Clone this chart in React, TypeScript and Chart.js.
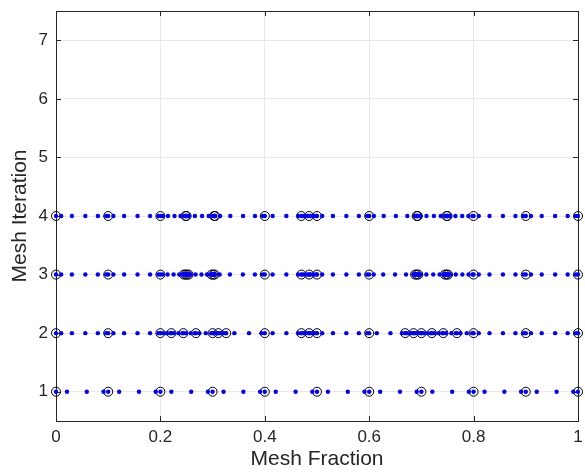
import React, { useEffect, useRef } from "react";
import { Chart, registerables } from "chart.js";

Chart.register(...registerables);

// x-axis / y-axis ticks
const xTickValues = [0, 0.2, 0.4, 0.6, 0.8, 1];
const xTickLabels = ["0", "0.2", "0.4", "0.6", "0.8", "1"];
const yTickValues = [1, 2, 3, 4, 5, 6, 7];
const yTickLabels = ["1", "2", "3", "4", "5", "6", "7"];

// Mesh iteration numbers (rows)
const iterations = [1, 2, 3, 4];

// Mesh points (black circles) per iteration
const mesh1 = [0, 0.1, 0.2, 0.3, 0.4, 0.5, 0.6, 0.7, 0.8, 0.9, 1.0];
const mesh2 = [0, 0.1, 0.2, 0.221, 0.244, 0.268, 0.3, 0.311, 0.326, 0.4, 0.47, 0.485, 0.5, 0.6, 0.669, 0.685, 0.7, 0.72, 0.742, 0.768, 0.8, 0.9, 1.0];
const mesh3 = [0, 0.1, 0.2, 0.245, 0.248, 0.251, 0.254, 0.298, 0.301, 0.304, 0.4, 0.47, 0.485, 0.5, 0.6, 0.688, 0.691, 0.694, 0.745, 0.748, 0.751, 0.8, 0.9, 1.0];
const mesh4 = [0, 0.1, 0.2, 0.248, 0.25, 0.303, 0.305, 0.4, 0.47, 0.485, 0.5, 0.6, 0.691, 0.693, 0.748, 0.75, 0.8, 0.9, 1.0];

// Collocation points (blue dots) per iteration
const colloc1 = [
  0, 0.021, 0.059, 0.091, 0.1, 0.121, 0.159, 0.191, 0.2, 0.221, 0.259, 0.291,
  0.3, 0.321, 0.359, 0.391, 0.4, 0.421, 0.459, 0.491, 0.5, 0.521, 0.559, 0.591,
  0.6, 0.621, 0.659, 0.691, 0.7, 0.721, 0.759, 0.791, 0.8, 0.821, 0.859, 0.891,
  0.9, 0.921, 0.959, 0.991, 1.0,
];
const colloc2 = [
  0, 0.0099, 0.0305, 0.0562, 0.0802, 0.096,
  0.1, 0.1099, 0.1305, 0.1562, 0.1802, 0.196,
  0.2, 0.2045, 0.2124, 0.2191,
  0.221, 0.2259, 0.2346, 0.242,
  0.244, 0.2491, 0.2582, 0.2659,
  0.268, 0.2748, 0.2869, 0.2972,
  0.3, 0.3023, 0.3065, 0.31,
  0.311, 0.3142, 0.3199, 0.3247,
  0.326, 0.3417, 0.3697, 0.3934,
  0.4, 0.4149, 0.4413, 0.4638,
  0.47, 0.4732, 0.4789, 0.4837,
  0.485, 0.4882, 0.4939, 0.4987,
  0.5, 0.5099, 0.5305, 0.5562, 0.5802, 0.596,
  0.6, 0.6146, 0.6407, 0.6629,
  0.669, 0.6724, 0.6784, 0.6836,
  0.685, 0.6882, 0.6939, 0.6987,
  0.7, 0.7042, 0.7118, 0.7182,
  0.72, 0.7247, 0.733, 0.74,
  0.742, 0.7475, 0.7574, 0.7657,
  0.768, 0.7748, 0.7869, 0.7972,
  0.8, 0.8099, 0.8305, 0.8562, 0.8802, 0.896,
  0.9, 0.9099, 0.9305, 0.9562, 0.9802, 0.996,
  1.0,
];
const colloc3 = [
  0, 0.0099, 0.0305, 0.0562, 0.0802, 0.096,
  0.1, 0.1099, 0.1305, 0.1562, 0.1802, 0.196,
  0.2, 0.2044, 0.2137, 0.2253, 0.2361, 0.2432,
  0.245, 0.2456, 0.2468, 0.2477,
  0.248, 0.2486, 0.2498, 0.2507,
  0.251, 0.2516, 0.2528, 0.2537,
  0.254, 0.2583, 0.2674, 0.2787, 0.2893, 0.2962,
  0.298, 0.2986, 0.2998, 0.3007,
  0.301, 0.3016, 0.3028, 0.3037,
  0.304, 0.3135, 0.3332, 0.358, 0.381, 0.3962,
  0.4, 0.4149, 0.4413, 0.4638,
  0.47, 0.4732, 0.4789, 0.4837,
  0.485, 0.4882, 0.4939, 0.4987,
  0.5, 0.5099, 0.5305, 0.5562, 0.5802, 0.596,
  0.6, 0.6087, 0.6268, 0.6495, 0.6706, 0.6845,
  0.688, 0.6886, 0.6898, 0.6907,
  0.691, 0.6916, 0.6928, 0.6937,
  0.694, 0.699, 0.7095, 0.7227, 0.7349, 0.743,
  0.745, 0.7456, 0.7468, 0.7477,
  0.748, 0.7486, 0.7498, 0.7507,
  0.751, 0.7558, 0.7659, 0.7785, 0.7903, 0.798,
  0.8, 0.8099, 0.8305, 0.8562, 0.8802, 0.896,
  0.9, 0.9099, 0.9305, 0.9562, 0.9802, 0.996,
  1.0,
];
const colloc4 = [
  0, 0.0099, 0.0305, 0.0562, 0.0802, 0.096,
  0.1, 0.1099, 0.1305, 0.1562, 0.1802, 0.196,
  0.2, 0.2047, 0.2146, 0.227, 0.2385, 0.2461,
  0.248, 0.2484, 0.2492, 0.2498,
  0.25, 0.2552, 0.2661, 0.2798, 0.2925, 0.3009,
  0.303, 0.3034, 0.3042, 0.3048,
  0.305, 0.3144, 0.3339, 0.3584, 0.3812, 0.3962,
  0.4, 0.4149, 0.4413, 0.4638,
  0.47, 0.4732, 0.4789, 0.4837,
  0.485, 0.4882, 0.4939, 0.4987,
  0.5, 0.5099, 0.5305, 0.5562, 0.5802, 0.596,
  0.6, 0.609, 0.6277, 0.6511, 0.673, 0.6874,
  0.691, 0.6914, 0.6922, 0.6928,
  0.693, 0.6984, 0.7098, 0.7239, 0.7371, 0.7458,
  0.748, 0.7484, 0.7492, 0.7498,
  0.75, 0.7549, 0.7652, 0.7781, 0.7901, 0.798,
  0.8, 0.8099, 0.8305, 0.8562, 0.8802, 0.896,
  0.9, 0.9099, 0.9305, 0.9562, 0.9802, 0.996,
  1.0,
];

const meshRows = [mesh1, mesh2, mesh3, mesh4];
const collocRows = [colloc1, colloc2, colloc3, colloc4];

const FONT = "'Liberation Sans', Arial, Helvetica, sans-serif";
const TEXT = "#262626";

const boxPlugin = {
  id: "matlabBox",
  beforeDatasetsDraw(chart: any) {
    const { ctx, chartArea: a, scales } = chart;
    ctx.save();
    ctx.strokeStyle = TEXT;
    ctx.lineWidth = 1;
    ctx.beginPath();
    const tl = 5;
    xTickValues.forEach((v) => {
      const px = Math.round(scales.x.getPixelForValue(v)) + 0.5;
      ctx.moveTo(px, a.bottom);
      ctx.lineTo(px, a.bottom - tl);
      ctx.moveTo(px, a.top);
      ctx.lineTo(px, a.top + tl);
    });
    yTickValues.forEach((v) => {
      const py = Math.round(scales.y.getPixelForValue(v)) + 0.5;
      ctx.moveTo(a.left, py);
      ctx.lineTo(a.left + tl, py);
      ctx.moveTo(a.right, py);
      ctx.lineTo(a.right - tl, py);
    });
    ctx.stroke();
    ctx.strokeRect(
      Math.round(a.left) + 0.5,
      Math.round(a.top) + 0.5,
      Math.round(a.right - a.left),
      Math.round(a.bottom - a.top)
    );
    ctx.restore();
  },
};

export default function App() {
  const ref = useRef<HTMLCanvasElement>(null);

  useEffect(() => {
    if (!ref.current) return;
    const dots: { x: number; y: number }[] = [];
    const circles: { x: number; y: number }[] = [];
    iterations.forEach((it, i) => {
      collocRows[i].forEach((x) => dots.push({ x, y: it }));
      meshRows[i].forEach((x) => circles.push({ x, y: it }));
    });

    const chart = new Chart(ref.current, {
      type: "scatter",
      data: {
        datasets: [
          {
            label: "Collocation points",
            data: dots,
            pointStyle: "circle",
            pointRadius: 2.2,
            pointBackgroundColor: "#0000ff",
            pointBorderWidth: 0,
            clip: false,
            order: 1,
          } as any,
          {
            label: "Mesh points",
            data: circles,
            pointStyle: "circle",
            pointRadius: 4.5,
            pointBackgroundColor: "rgba(0,0,0,0)",
            pointBorderColor: "#000000",
            pointBorderWidth: 1,
            clip: false,
            order: 2,
          } as any,
        ],
      },
      options: {
        responsive: false,
        animation: false,
        events: [],
        layout: { padding: { top: 11, right: 7, left: 0, bottom: 0 } },
        plugins: { legend: { display: false }, tooltip: { enabled: false } },
        scales: {
          x: {
            type: "linear",
            min: 0,
            max: 1,
            afterBuildTicks: (s: any) => {
              s.ticks = xTickValues.map((v) => ({ value: v }));
            },
            afterFit: (s: any) => {
              s.height = 51;
              s.paddingLeft = 0;
              s.paddingRight = 0;
            },
            ticks: {
              callback: (_v: any, i: number) => xTickLabels[i],
              color: TEXT,
              font: { family: FONT, size: 17 },
              padding: 6,
              maxRotation: 0,
            },
            grid: { color: "#e8e8e8", drawTicks: false },
            border: { display: false },
            title: {
              display: true,
              text: "Mesh Fraction",
              color: TEXT,
              font: { family: FONT, size: 21 },
              padding: { top: 0, bottom: 0 },
            },
          },
          y: {
            type: "linear",
            min: 0.5,
            max: 7.5,
            afterBuildTicks: (s: any) => {
              s.ticks = yTickValues.map((v) => ({ value: v }));
            },
            afterFit: (s: any) => {
              s.width = 56;
              s.paddingTop = 0;
              s.paddingBottom = 0;
            },
            ticks: {
              callback: (_v: any, i: number) => yTickLabels[i],
              color: TEXT,
              font: { family: FONT, size: 17 },
              padding: 8,
            },
            grid: { color: "#e8e8e8", drawTicks: false },
            border: { display: false },
            title: {
              display: true,
              text: "Mesh Iteration",
              color: TEXT,
              font: { family: FONT, size: 21 },
              padding: { top: 8, bottom: 0 },
            },
          },
        },
      },
      plugins: [boxPlugin],
    });
    return () => chart.destroy();
  }, []);

  return (
    <div style={{ position: "fixed", left: 0, top: 0, width: 585, height: 472, background: "#fff" }}>
      <canvas ref={ref} width={585} height={472} style={{ display: "block", width: 585, height: 472 }} />
    </div>
  );
}
